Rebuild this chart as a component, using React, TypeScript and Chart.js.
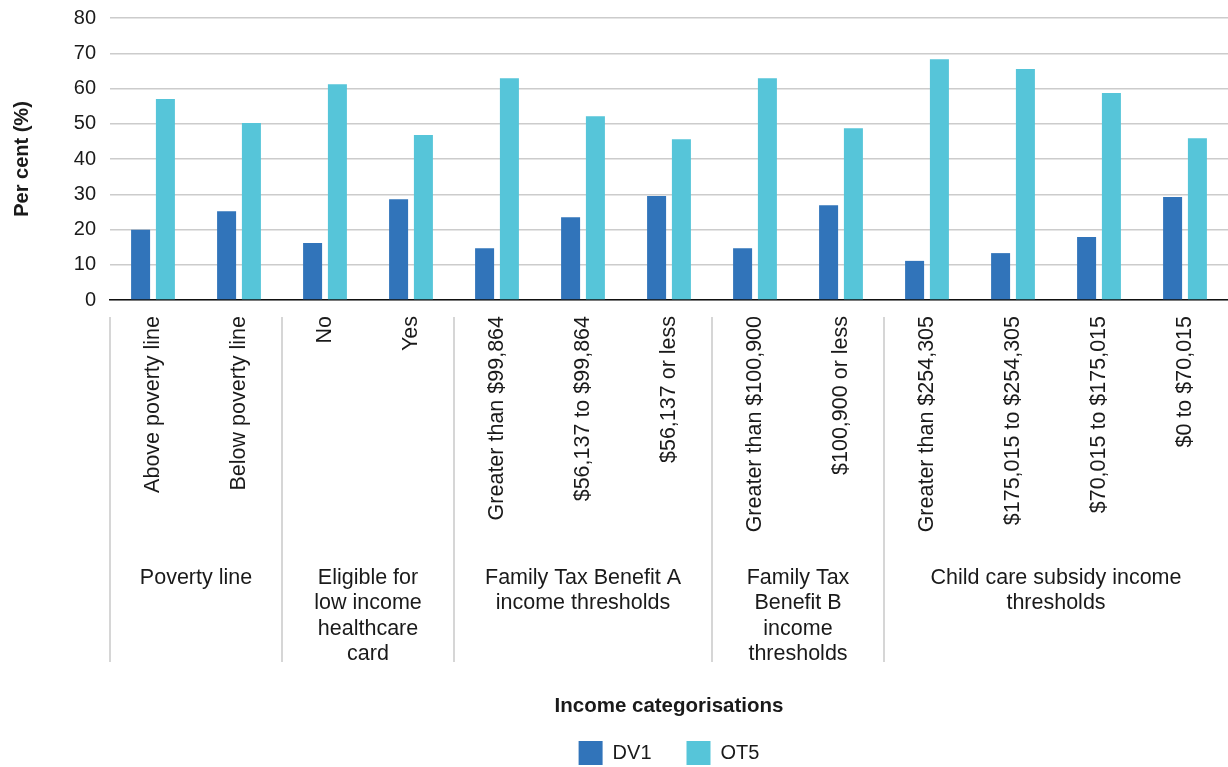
import React, { useEffect, useRef } from "react";
import { Chart, registerables } from "chart.js";

Chart.register(...registerables);

const categories = [
  "Above poverty line",
  "Below poverty line",
  "No",
  "Yes",
  "Greater than $99,864",
  "$56,137 to $99,864",
  "$56,137 or less",
  "Greater than $100,900",
  "$100,900 or less",
  "Greater than $254,305",
  "$175,015 to $254,305",
  "$70,015 to $175,015",
  "$0 to $70,015",
];

const dv1Values = [19.9, 25.2, 16.2, 28.6, 14.7, 23.5, 29.5, 14.7, 26.9, 11.1, 13.3, 17.9, 29.2];
const ot5Values = [57.0, 50.2, 61.2, 46.8, 62.9, 52.1, 45.6, 62.9, 48.7, 68.3, 65.5, 58.7, 45.9];

const groupLabels: string[][] = [
  ["Poverty line"],
  ["Eligible for", "low income", "healthcare", "card"],
  ["Family Tax Benefit A", "income thresholds"],
  ["Family Tax", "Benefit B", "income", "thresholds"],
  ["Child care subsidy income", "thresholds"],
];
const groupSizes = [2, 2, 3, 2, 4];

const yMin = 0;
const yMax = 80;
const yStep = 10;

const FONT = "'Liberation Sans', Arial, Helvetica, sans-serif";
const TEXT = "#1a1a1a";
const DV1_COLOR = "#3174ba";
const OT5_COLOR = "#56c5d9";

const groupPlugin = {
  id: "groupLabels",
  afterLayout(chart: any) {
    if (chart.legend) {
      chart.legend.left = chart.chartArea.left;
    }
  },
  afterDraw(chart: any) {
    const { ctx, chartArea } = chart;
    const xs = chart.scales.x;
    const n = categories.length;
    const mid = (i: number) => (xs.getPixelForValue(i - 1) + xs.getPixelForValue(i)) / 2;
    const sepTop = chartArea.bottom + 17;
    const sepBottom = chartArea.bottom + 362;
    const labelTop = chartArea.bottom + 278;
    const lineH = 25.3;
    ctx.save();
    let start = 0;
    groupSizes.forEach((size, g) => {
      const left = start === 0 ? chartArea.left : mid(start);
      const end = start + size;
      const right = end >= n ? chartArea.right : mid(end);
      ctx.strokeStyle = "#c8c8c8";
      ctx.lineWidth = 1.5;
      ctx.beginPath();
      ctx.moveTo(left, sepTop);
      ctx.lineTo(left, sepBottom);
      ctx.stroke();
      ctx.fillStyle = TEXT;
      ctx.font = `21.5px ${FONT}`;
      ctx.textAlign = "center";
      ctx.textBaseline = "middle";
      groupLabels[g].forEach((line, li) => {
        ctx.fillText(line, (left + right) / 2, labelTop + li * lineH);
      });
      start = end;
    });
    ctx.restore();
  },
};

export default function App() {
  const canvasRef = useRef<HTMLCanvasElement | null>(null);

  useEffect(() => {
    document.body.style.margin = "0";
    const canvas = canvasRef.current;
    if (!canvas) return;
    const chart = new Chart(canvas, {
      type: "bar",
      data: {
        labels: categories,
        datasets: [
          {
            label: "DV1",
            data: dv1Values,
            backgroundColor: DV1_COLOR,
            categoryPercentage: 0.577,
            barPercentage: 0.766,
          },
          {
            label: "OT5",
            data: ot5Values,
            backgroundColor: OT5_COLOR,
            categoryPercentage: 0.577,
            barPercentage: 0.766,
          },
        ],
      },
      options: {
        responsive: false,
        animation: false,
        layout: { padding: { top: 18, left: 0, right: 0, bottom: 0 } },
        plugins: {
          tooltip: { enabled: false },
          legend: {
            position: "bottom",
            maxHeight: 61,
            labels: {
              boxWidth: 24,
              boxHeight: 24,
              padding: 35,
              color: TEXT,
              font: { family: FONT, size: 20 },
            },
          },
        },
        scales: {
          x: {
            grid: { display: false, drawTicks: false },
            border: { display: true, color: "#111111", width: 1.5 },
            ticks: {
              autoSkip: false,
              maxRotation: 90,
              minRotation: 90,
              padding: 16,
              color: TEXT,
              font: { family: FONT, size: 21.5 },
            },
            title: {
              display: true,
              text: "Income categorisations",
              color: TEXT,
              font: { family: FONT, size: 20.5, weight: "bold" },
              padding: { top: 0, bottom: -13 },
            },
            afterFit(scale: any) {
              scale.height = 406;
            },
          },
          y: {
            min: yMin,
            max: yMax,
            border: { display: false },
            grid: { color: "#cccccc", lineWidth: 1.5, drawTicks: false },
            ticks: {
              stepSize: yStep,
              padding: 14,
              color: TEXT,
              font: { family: FONT, size: 20 },
            },
            title: {
              display: true,
              text: "Per cent (%)",
              color: TEXT,
              font: { family: FONT, size: 20, weight: "bold" },
              padding: { top: 10, bottom: 0 },
            },
            afterFit(scale: any) {
              scale.width = 110;
              scale.paddingTop = 0;
              scale.paddingBottom = 0;
            },
          },
        },
      },
      plugins: [groupPlugin],
    } as any);
    return () => chart.destroy();
  }, []);

  return (
    <div style={{ width: 1228, height: 767 }}>
      <canvas ref={canvasRef} width={1228} height={767} style={{ display: "block", width: 1228, height: 767 }} />
    </div>
  );
}
